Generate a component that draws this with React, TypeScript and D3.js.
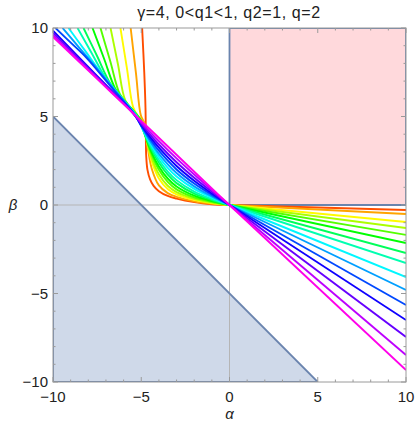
import React from "react";
import * as d3 from "d3";

const W = 415;
const H = 426;

const xTicksMajor = [-10, -5, 0, 5, 10];
const yTicksMajor = [-10, -5, 0, 5, 10];
const minorTicks = [-9, -8, -7, -6, -4, -3, -2, -1, 1, 2, 3, 4, 6, 7, 8, 9];
const tickLabels = ["−10", "−5", "0", "5", "10"];

// Hue (degrees) of each curve, q1 from small to large
const hues = [18, 38.5, 59, 79.5, 100, 120.5, 141, 161.5, 182, 202.5, 223, 243.5, 264, 284.5, 305];

// beta at alpha = 10 of each straight right-hand branch
const rightBetaAt10 = [-0.28, -0.51, -0.96, -1.3, -1.69, -2.15, -2.71, -3.28, -4.07, -4.8, -5.65, -6.5, -7.46, -8.47, -9.32];

// left-hand branches (alpha, beta), from the origin outwards
const c0: [number, number][] = [[0, 0], [-1, 0.045], [-2, 0.16], [-3, 0.36], [-3.5, 0.51], [-4, 0.78], [-4.3, 1.08], [-4.5, 1.45], [-4.65, 2.0], [-4.72, 2.8], [-4.74, 4.0], [-4.76, 5.5], [-4.83, 7.5], [-4.95, 10]];
const c1: [number, number][] = [[0, 0], [-1, 0.067], [-2, 0.204], [-3, 0.461], [-3.5, 0.674], [-4, 1.106], [-4.4, 2.039], [-4.6, 3.027], [-4.7, 3.754], [-4.785, 4.546], [-5.02, 5.05], [-5.3, 7.45], [-5.6, 10]];
const c2: [number, number][] = [[0, 0], [-1, 0.111], [-2, 0.287], [-3, 0.601], [-3.5, 0.901], [-4, 1.494], [-4.4, 2.451], [-4.65, 3.457], [-4.85, 4.608], [-5.15, 4.98], [-5.45, 5.5], [-5.815, 7.75], [-6.18, 10]];
const c3: [number, number][] = [[0, 0], [-1, 0.144], [-2, 0.352], [-3, 0.725], [-3.5, 1.087], [-4, 1.737], [-4.4, 2.638], [-4.7, 3.669], [-4.915, 4.669], [-5.4, 5.278], [-5.9, 5.905], [-6.32, 7.95], [-6.74, 10]];
const c4: [number, number][] = [[0, 0], [-1, 0.182], [-2, 0.431], [-3, 0.883], [-3.5, 1.306], [-4, 1.989], [-4.4, 2.827], [-4.75, 3.859], [-4.98, 4.731], [-5.6, 5.498], [-6.2, 6.24], [-6.755, 8.12], [-7.31, 10]];
const c5: [number, number][] = [[0, 0], [-1, 0.227], [-2, 0.524], [-3, 1.045], [-3.5, 1.497], [-4, 2.177], [-4.4, 2.95], [-4.8, 3.993], [-5.045, 4.793], [-5.75, 5.663], [-6.45, 6.528], [-7.105, 8.264], [-7.76, 10]];
const c6: [number, number][] = [[0, 0], [-1, 0.282], [-2, 0.641], [-3, 1.236], [-3.5, 1.715], [-4, 2.384], [-4.4, 3.096], [-4.85, 4.129], [-5.11, 4.855], [-5.93, 5.859], [-6.75, 6.863], [-7.51, 8.431], [-8.27, 10]];
const c7: [number, number][] = [[0, 0], [-1, 0.338], [-2, 0.756], [-3, 1.405], [-3.5, 1.892], [-4, 2.539], [-4.4, 3.199], [-4.9, 4.235], [-5.175, 4.916], [-6.09, 6.036], [-7.0, 7.15], [-7.805, 8.575], [-8.61, 10]];
const c8: [number, number][] = [[0, 0], [-1, 0.415], [-2, 0.91], [-3, 1.612], [-3.5, 2.103], [-4, 2.721], [-4.5, 3.497], [-4.95, 4.347], [-5.24, 4.978], [-6.245, 6.208], [-7.25, 7.438], [-8.185, 8.719], [-9.12, 10]];
const c9: [number, number][] = [[0, 0], [-1, 0.487], [-2, 1.053], [-3, 1.804], [-4, 2.892], [-4.5, 3.607], [-5, 4.454], [-5.305, 5.04], [-6.45, 6.427], [-7.6, 7.82], [-8.53, 8.91], [-9.46, 10]];
const c10: [number, number][] = [[0, 0], [-1, 0.571], [-2, 1.212], [-3, 2.008], [-4, 3.066], [-4.5, 3.724], [-5, 4.478], [-5.37, 5.102], [-6.735, 6.708], [-8.1, 8.315], [-8.98, 9.158], [-9.86, 10]];
const c11: [number, number][] = [[0, 0], [-1, 0.654], [-2, 1.37], [-3, 2.206], [-4, 3.239], [-4.5, 3.846], [-5, 4.521], [-5.435, 5.163], [-7.7, 7.489], [-10, 9.85]];
const c12: [number, number][] = [[0, 0], [-1, 0.749], [-2, 1.541], [-3, 2.415], [-4, 3.417], [-4.5, 3.977], [-5, 4.58], [-5.5, 5.225], [-7.75, 7.473], [-10, 9.72]];
const c13: [number, number][] = [[0, 0], [-1, 0.848], [-2, 1.72], [-3, 2.632], [-4, 3.607], [-5, 4.658], [-5.565, 5.287], [-7.8, 7.46], [-10, 9.6]];
const c14: [number, number][] = [[0, 0], [-1, 0.935], [-2.5, 2.36], [-5, 4.75], [-7.5, 7.125], [-10, 9.5]];
const leftBranches = [c0, c1, c2, c3, c4, c5, c6, c7, c8, c9, c10, c11, c12, c13, c14];

// regions
const blueRegion: [number, number][] = [[-10, 5], [5, -10], [-10, -10]];
const pinkRegion: [number, number][] = [[0, 0], [10, 0], [10, 10], [0, 10]];

export default function App() {
  const x = d3.scaleLinear().domain([-10, 10]).range([53, 406]);
  const y = d3.scaleLinear().domain([-10, 10]).range([382, 28]);
  const left = x(-10), right = x(10), top = y(10), bottom = y(-10);

  const curve = d3
    .line<[number, number]>()
    .x((d) => x(d[0]))
    .y((d) => y(d[1]))
    .curve(d3.curveCatmullRom.alpha(0.5));
  const poly = d3
    .line<[number, number]>()
    .x((d) => x(d[0]))
    .y((d) => y(d[1]));

  const frameColor = "#9a9a9a";
  const edgeColor = "#6a84ae";
  const font = "'Liberation Sans', Arial, sans-serif";

  const ticks: React.ReactElement[] = [];
  xTicksMajor.forEach((t, i) => {
    ticks.push(<line key={"xb" + i} x1={x(t)} x2={x(t)} y1={bottom} y2={bottom - 5} stroke={frameColor} />);
    ticks.push(<line key={"xt" + i} x1={x(t)} x2={x(t)} y1={top} y2={top + 5} stroke={frameColor} />);
    ticks.push(<line key={"yl" + i} x1={left} x2={left + 5} y1={y(t)} y2={y(t)} stroke={frameColor} />);
    ticks.push(<line key={"yr" + i} x1={right} x2={right - 5} y1={y(t)} y2={y(t)} stroke={frameColor} />);
  });
  minorTicks.forEach((t, i) => {
    ticks.push(<line key={"mxb" + i} x1={x(t)} x2={x(t)} y1={bottom} y2={bottom - 2.5} stroke={frameColor} />);
    ticks.push(<line key={"mxt" + i} x1={x(t)} x2={x(t)} y1={top} y2={top + 2.5} stroke={frameColor} />);
    ticks.push(<line key={"myl" + i} x1={left} x2={left + 2.5} y1={y(t)} y2={y(t)} stroke={frameColor} />);
    ticks.push(<line key={"myr" + i} x1={right} x2={right - 2.5} y1={y(t)} y2={y(t)} stroke={frameColor} />);
  });

  return (
    <svg width={W} height={H} style={{ position: "absolute", left: 0, top: 0, background: "#fff" }} fontFamily={font}>
      <defs>
        <clipPath id="plotclip">
          <rect x={left} y={top} width={right - left} height={bottom - top} />
        </clipPath>
      </defs>
      <rect x={0} y={0} width={W} height={H} fill="#fff" />
      <g clipPath="url(#plotclip)">
        <path d={poly(pinkRegion)! + "Z"} fill="#ffd9dc" stroke="none" />
        <path d={poly(blueRegion)! + "Z"} fill="#cfd9e9" stroke="none" />
        {/* axes */}
        <line x1={x(0)} x2={x(0)} y1={top} y2={bottom} stroke="#b5b5b5" strokeWidth={1} />
        <line x1={left} x2={right} y1={y(0)} y2={y(0)} stroke="#b5b5b5" strokeWidth={1} />
        {/* region boundaries */}
        <path d={poly([[0, 10], [0, 0], [10, 0]])!} fill="none" stroke={edgeColor} strokeWidth={1.8} />
        <path d={poly([[0, 10], [10, 10], [10, 0]])!} fill="none" stroke={edgeColor} strokeWidth={1.8} />
        <path d={poly([[-10, 5], [5, -10]])!} fill="none" stroke={edgeColor} strokeWidth={1.8} />
        <path d={poly([[-10, 5], [-10, -10], [5, -10]])!} fill="none" stroke={edgeColor} strokeWidth={1.8} />
        {/* curves */}
        {leftBranches.map((pts, i) => {
          const col = d3.hsl(hues[i], 1, 0.5).toString();
          return (
            <g key={"c" + i}>
              <path d={curve(pts)!} fill="none" stroke={col} strokeWidth={1.9} strokeLinejoin="round" />
              <path d={poly([[0, 0], [10, rightBetaAt10[i]]])!} fill="none" stroke={col} strokeWidth={1.9} />
            </g>
          );
        })}
      </g>
      {/* frame */}
      <rect x={left} y={top} width={right - left} height={bottom - top} fill="none" stroke={frameColor} strokeWidth={1} />
      {ticks}
      {/* tick labels */}
      {xTicksMajor.map((t, i) => (
        <text key={"xl" + i} x={x(t)} y={bottom + 20} textAnchor="middle" fontSize={15} fill="#222">
          {tickLabels[i]}
        </text>
      ))}
      {yTicksMajor.map((t, i) => (
        <text key={"yl" + i} x={left - 5} y={y(t) + 5} textAnchor="end" fontSize={15} fill="#222">
          {tickLabels[i]}
        </text>
      ))}
      <text x={x(0)} y={419} textAnchor="middle" fontSize={15} fontStyle="italic" fill="#222">α</text>
      <text x={13} y={y(0) + 5} textAnchor="middle" fontSize={15} fontStyle="italic" fill="#222">β</text>
      <text x={229} y={18} textAnchor="middle" fontSize={16} letterSpacing={0.6} fill="#222">γ=4, 0&lt;q1&lt;1, q2=1, q=2</text>
    </svg>
  );
}
